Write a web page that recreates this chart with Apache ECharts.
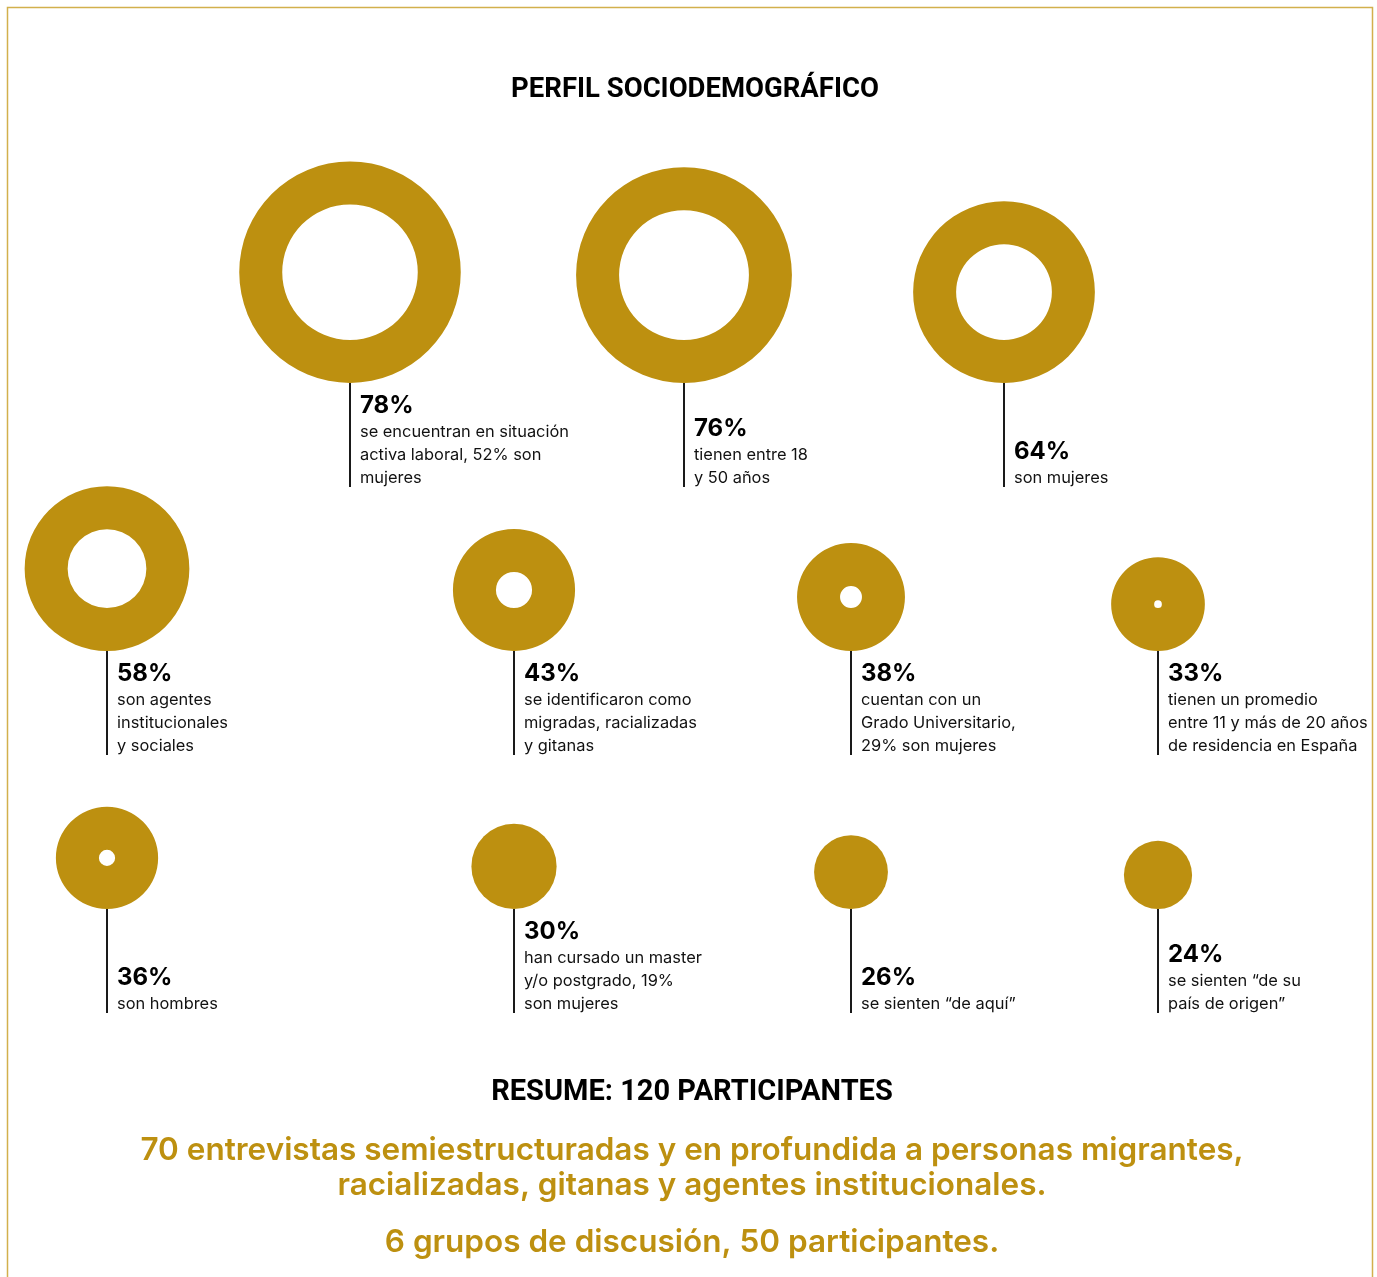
<!DOCTYPE html>
<html>
<head>
<meta charset="utf-8">
<title>Perfil sociodemográfico</title>
<script src="https://cdn.jsdelivr.net/npm/echarts@6/dist/echarts.min.js"></script>
<style>
  html, body { margin: 0; padding: 0; background: #fff; }
  #chart { width: 1377px; height: 1277px; }
</style>
</head>
<body>
<div id="chart"></div>
<script>
// valores
const percents = [78, 76, 64, 58, 43, 38, 33, 36, 30, 26, 24]
const descriptions = [
  ['se encuentran en situación', 'activa laboral, 52% son', 'mujeres'],
  ['tienen entre 18', 'y 50 años'],
  ['son mujeres'],
  ['son agentes', 'institucionales', 'y sociales'],
  ['se identificaron como', 'migradas, racializadas', 'y gitanas'],
  ['cuentan con un', 'Grado Universitario,', '29% son mujeres'],
  ['tienen un promedio', 'entre 11 y más de 20 años', 'de residencia en España'],
  ['son hombres'],
  ['han cursado un master', 'y/o postgrado, 19%', 'son mujeres'],
  ['se sienten “de aquí”'],
  ['se sienten “de su', 'país de origen”'],
]
const rowOf = [0, 0, 0, 1, 1, 1, 1, 2, 2, 2, 2]

// maquetación (px)
const colX = [350, 684, 1004, 107, 514, 851, 1158, 107, 514, 851, 1158]
const rowCircleBottom = [383, 651, 909]
const rowStemEnd = [487, 755, 1013]
const GOLD = '#bd9010'
const RING = 43 // grosor del anillo
const PX_PER_PCT = 1.42

const chart = echarts.init(document.getElementById('chart'))

const data = percents.map((p, i) => [colX[i], rowCircleBottom[rowOf[i]], rowStemEnd[rowOf[i]], p, i])

chart.setOption({
  animation: false,
  grid: { left: 0, right: 0, top: 0, bottom: 0 },
  xAxis: { type: 'value', min: 0, max: 1377, show: false },
  yAxis: { type: 'value', min: 0, max: 1277, inverse: true, show: false },
  graphic: [
    {
      type: 'rect',
      shape: { x: 7.5, y: 7.5, width: 1365, height: 1300 },
      style: { fill: 'none', stroke: '#d2b04c', lineWidth: 1.5 },
    },
    {
      type: 'text', x: 695, y: 90,
      style: { text: 'PERFIL SOCIODEMOGRÁFICO', fontFamily: 'Roboto', fontWeight: 'bold', fontSize: 27.5,
        fill: '#000', align: 'center', verticalAlign: 'middle' },
    },
    {
      type: 'text', x: 692, y: 1093,
      style: { text: 'RESUME: 120 PARTICIPANTES', fontFamily: 'Roboto', fontWeight: 'bold', fontSize: 29,
        fill: '#000', align: 'center', verticalAlign: 'middle' },
    },
    {
      type: 'text', x: 692, y: 1168,
      style: {
        text: '70 entrevistas semiestructuradas y en profundida a personas migrantes,\nracializadas, gitanas y agentes institucionales.',
        fontFamily: 'Inter', fontWeight: 600, fontSize: 31.5, lineHeight: 35,
        fill: GOLD, align: 'center', verticalAlign: 'middle' },
    },
    {
      type: 'text', x: 692, y: 1243,
      style: { text: '6 grupos de discusión, 50 participantes.', fontFamily: 'Inter', fontWeight: 600, fontSize: 31.5,
        fill: GOLD, align: 'center', verticalAlign: 'middle' },
    },
  ],
  series: [
    {
      type: 'custom',
      coordinateSystem: 'cartesian2d',
      data,
      renderItem: (params, api) => {
        const bottom = api.coord([api.value(0), api.value(1)])
        const end = api.coord([api.value(0), api.value(2)])
        const pct = api.value(3)
        const idx = api.value(4)
        const r = pct * PX_PER_PCT
        const r0 = Math.max(0, r - RING)
        const lines = descriptions[idx]
        return {
          type: 'group',
          children: [
            {
              type: 'sector',
              shape: { cx: bottom[0], cy: bottom[1] - r, r, r0, startAngle: 0, endAngle: Math.PI * 2 },
              style: { fill: GOLD },
            },
            {
              type: 'line',
              shape: { x1: bottom[0], y1: bottom[1], x2: end[0], y2: end[1] },
              style: { stroke: '#1a1a1a', lineWidth: 2 },
            },
            {
              type: 'text',
              x: bottom[0] + 10,
              y: end[1] + 3,
              style: {
                text: '{p|' + pct + '%}\n' + lines.map((l) => '{d|' + l + '}').join('\n'),
                align: 'left',
                verticalAlign: 'bottom',
                rich: {
                  p: { fontFamily: 'Inter', fontWeight: 'bold', fontSize: 24, lineHeight: 30, fill: '#000' },
                  d: { fontFamily: 'Inter', fontSize: 16.4, lineHeight: 23, fill: '#111' },
                },
              },
            },
          ],
        }
      },
    },
  ],
})
</script>
</body>
</html>
